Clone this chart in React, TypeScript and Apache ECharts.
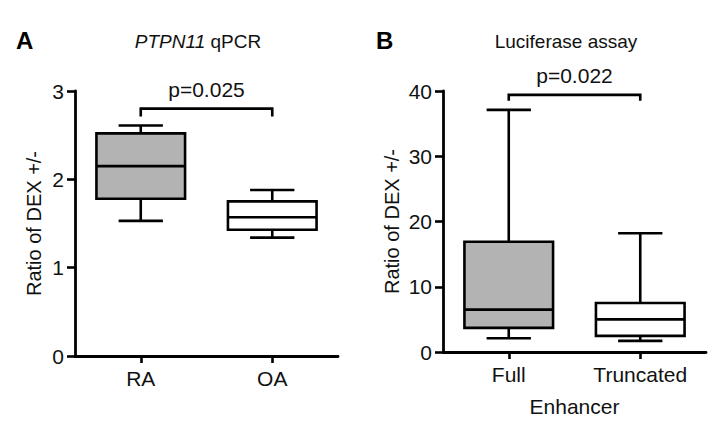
import React, { useEffect, useRef } from "react";
import * as echarts from "echarts";

// Panel A: PTPN11 qPCR
const catsA = ["RA", "OA"];
const minA = [1.53, 1.34];
const q1A = [1.78, 1.43];
const medA = [2.15, 1.57];
const q3A = [2.52, 1.75];
const maxA = [2.61, 1.88];
const bracketA = [2.8, 2.71];
const pA = "p=0.025";

// Panel B: Luciferase assay
const catsB = ["Full", "Truncated"];
const minB = [2.1, 1.7];
const q1B = [3.7, 2.47];
const medB = [6.5, 5.0];
const q3B = [16.9, 7.5];
const maxB = [37.1, 18.2];
const bracketB = [39.4, 38.5];
const pB = "p=0.022";

const fills = ["#b3b3b3", "#ffffff"];
const FONT = "'Liberation Sans', Arial, sans-serif";

function boxData(mins: number[], q1: number[], med: number[], q3: number[], max: number[]) {
  return mins.map((_, i) => [i, mins[i], q1[i], med[i], q3[i], max[i]]);
}

function renderBox(params: any, api: any) {
  const i = api.value(0);
  const bw = api.size([1, 0])[0] * 0.674;
  const xc = api.coord([i, 0])[0];
  const y = (k: number) => api.coord([i, api.value(k)])[1];
  const yMin = y(1), yQ1 = y(2), yMed = y(3), yQ3 = y(4), yMax = y(5);
  const st = { stroke: "#000", lineWidth: 2.6, fill: null } as any;
  return {
    type: "group",
    children: [
      { type: "line", shape: { x1: xc, y1: yQ1, x2: xc, y2: yMin }, style: st },
      { type: "line", shape: { x1: xc - bw / 4, y1: yMin, x2: xc + bw / 4, y2: yMin }, style: st },
      { type: "line", shape: { x1: xc, y1: yQ3, x2: xc, y2: yMax }, style: st },
      { type: "line", shape: { x1: xc - bw / 4, y1: yMax, x2: xc + bw / 4, y2: yMax }, style: st },
      {
        type: "rect",
        shape: { x: xc - bw / 2, y: yQ3, width: bw, height: yQ1 - yQ3 },
        style: { stroke: "#000", lineWidth: 2.6, fill: fills[i] },
      },
      { type: "line", shape: { x1: xc - bw / 2, y1: yMed, x2: xc + bw / 2, y2: yMed }, style: st },
    ],
  };
}

function makeBracketRenderer(label: string) {
  return (params: any, api: any) => {
    const x0 = api.coord([0, api.value(0)])[0];
    const x1 = api.coord([1, api.value(0)])[0];
    const yTop = api.coord([0, api.value(0)])[1];
    const yLeg = api.coord([0, api.value(1)])[1];
    return {
      type: "group",
      children: [
        {
          type: "polyline",
          shape: { points: [[x0, yLeg], [x0, yTop], [x1, yTop], [x1, yLeg]] },
          style: { stroke: "#000", lineWidth: 2.6, fill: null },
        },
        {
          type: "text",
          style: {
            text: label,
            x: (x0 + x1) / 2,
            y: yTop - 19,
            align: "center",
            verticalAlign: "middle",
            fontSize: 21,
            fontFamily: FONT,
            fill: "#111",
          },
        },
      ],
    };
  };
}

function yAxisCfg(gridIndex: number, max: number, interval: number, nameGap: number) {
  return {
    type: "value",
    gridIndex,
    min: 0,
    max,
    interval,
    name: "Ratio of DEX +/-",
    nameLocation: "middle",
    nameGap,
    nameTextStyle: { fontSize: 20, fontFamily: FONT, color: "#111" },
    axisLine: { show: true, lineStyle: { color: "#000", width: 2.8 } },
    axisTick: { show: true, length: 8, lineStyle: { color: "#000", width: 2.6 } },
    axisLabel: { fontSize: 21, fontFamily: FONT, color: "#111", margin: 11 },
    splitLine: { show: false },
  };
}

function xAxisCfg(gridIndex: number, data: string[], name?: string) {
  return {
    type: "category",
    gridIndex,
    data,
    name: name || "",
    nameLocation: "middle",
    nameGap: 44,
    nameTextStyle: { fontSize: 21, fontFamily: FONT, color: "#111" },
    axisLine: { show: true, lineStyle: { color: "#000", width: 2.8 } },
    axisTick: { show: true, alignWithLabel: true, length: 7, lineStyle: { color: "#000", width: 2.6 } },
    axisLabel: { fontSize: 21, fontFamily: FONT, color: "#111", margin: 12 },
    splitLine: { show: false },
  };
}

export default function App() {
  const ref = useRef<HTMLDivElement>(null);
  useEffect(() => {
    if (!ref.current) return;
    const chart = echarts.init(ref.current, undefined, { renderer: "svg" });
    chart.setOption({
      animation: false,
      backgroundColor: "#ffffff",
      grid: [
        { left: 75, top: 91, width: 263, height: 265 },
        { left: 443, top: 91, width: 263, height: 264 },
      ],
      xAxis: [xAxisCfg(0, catsA), xAxisCfg(1, catsB, "Enhancer")],
      yAxis: [yAxisCfg(0, 3, 1, 31), yAxisCfg(1, 40, 10, 41)],
      graphic: [
        { type: "text", left: 16, top: 28, style: { text: "A", fontSize: 24, fontWeight: "bold", fontFamily: FONT, fill: "#000" } },
        { type: "text", left: 376, top: 28, style: { text: "B", fontSize: 24, fontWeight: "bold", fontFamily: FONT, fill: "#000" } },
        {
          type: "text",
          x: 198,
          y: 41,
          style: {
            text: "{i|PTPN11} qPCR",
            align: "center",
            verticalAlign: "middle",
            fontSize: 19,
            fontFamily: FONT,
            fill: "#111",
            rich: { i: { fontStyle: "italic", fontSize: 19, fontFamily: FONT, fill: "#111" } },
          },
        },
        {
          type: "text",
          x: 566,
          y: 41,
          style: { text: "Luciferase assay", align: "center", verticalAlign: "middle", fontSize: 19, fontFamily: FONT, fill: "#111" },
        },
      ],
      series: [
        {
          type: "custom",
          xAxisIndex: 0,
          yAxisIndex: 0,
          data: boxData(minA, q1A, medA, q3A, maxA),
          encode: { x: 0, y: [1, 2, 3, 4, 5] },
          renderItem: renderBox,
        },
        {
          type: "custom",
          xAxisIndex: 1,
          yAxisIndex: 1,
          data: boxData(minB, q1B, medB, q3B, maxB),
          encode: { x: 0, y: [1, 2, 3, 4, 5] },
          renderItem: renderBox,
        },
        {
          type: "custom",
          xAxisIndex: 0,
          yAxisIndex: 0,
          data: [bracketA],
          encode: { y: [0, 1] },
          renderItem: makeBracketRenderer(pA),
          clip: false,
        },
        {
          type: "custom",
          xAxisIndex: 1,
          yAxisIndex: 1,
          data: [bracketB],
          encode: { y: [0, 1] },
          renderItem: makeBracketRenderer(pB),
          clip: false,
        },
      ],
    });
    return () => chart.dispose();
  }, []);
  return <div ref={ref} style={{ position: "fixed", left: 0, top: 0, width: 718, height: 422 }} />;
}
